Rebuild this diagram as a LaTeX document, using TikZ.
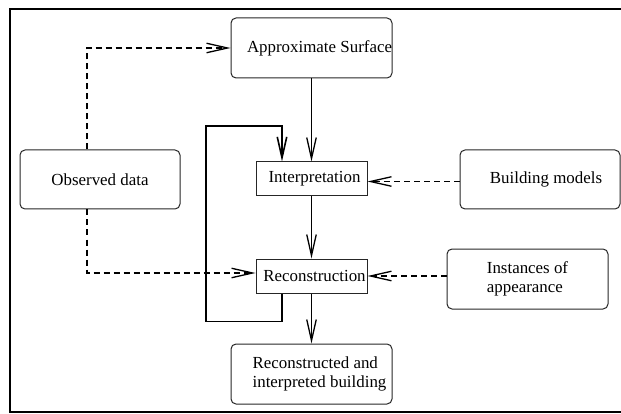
\documentclass[tikz,border=0pt]{standalone}
\usepackage{fontspec}
\setmainfont{Liberation Serif}
\usetikzlibrary{arrows.meta, positioning, calc}

\begin{document}
\begin{tikzpicture}[
        x=1pt, y=-1pt,
        every node/.style={font=\fontsize{16.9}{19}\selectfont},
        box/.style={draw=black!85, line width=1pt, rounded corners=5pt, minimum width=161pt, minimum height=60pt, inner sep=0pt},
        stage/.style={draw=black!85, line width=1pt, minimum width=111pt, minimum height=34pt, inner sep=0pt},
        txt/.style={align=left, inner sep=0pt},
        arrow/.style={-{Straight Barb[length=21pt, width=9.5pt]}, line width=1.3pt},
        dasharrow/.style={arrow, dash pattern=on 6pt off 4pt},
        feedback/.style={-{Straight Barb[length=21pt, width=9.5pt]}, line width=1.6pt}
      ]
        \useasboundingbox (0,0) rectangle (621,414);
        \draw[line width=2pt] (621,9) -- (10,9) -- (10,412) -- (621,412);
        \node[box] (surface) at (311.5,48) {};
        \node[txt] (surfacetxt) at ([xshift=8pt]surface.center) {Approximate Surface};
        \node[box, minimum width=160pt, minimum height=59pt] (observed) at (100,179.5) {Observed data};
        \node[stage] (interp) at (311.5,179) {\hspace*{6pt}Interpretation};
        \node[box, minimum width=160pt, minimum height=59pt] (models) at (540,179.5) {\hspace*{12pt}Building models};
        \node[stage] (recon) at (311.5,276) {\hspace*{6pt}Reconstruction};
        \node[box] (instances) at (527.5,279) {};
        \node[txt] (instancestxt) at (instances.center) {Instances of\\appearance};
        \node[box] (result) at (311.5,374) {};
        \node[txt] (resulttxt) at ([xshift=8pt]result.center) {Reconstructed and\\interpreted building};
        \draw[arrow] (surface) -- (interp);
        \draw[arrow] (interp) -- (recon);
        \draw[arrow] (recon) -- (result);
        \draw[feedback] ([xshift=-29.5pt]recon.south) -- ++(0,28) -| (206,126) -| ([xshift=-29.5pt]interp.north);
        \draw[dasharrow] ([xshift=-13pt]observed.north) |- (surface.west);
        \draw[dasharrow] ([xshift=-13pt]observed.south) |- ([yshift=3pt]recon.west);
        \draw[dasharrow] (models.west |- 0,181.5) -- (interp.east |- 0,181.5);
        \draw[dasharrow] (instances.west |- recon.east) -- (recon.east);
      \end{tikzpicture}
\end{document}
